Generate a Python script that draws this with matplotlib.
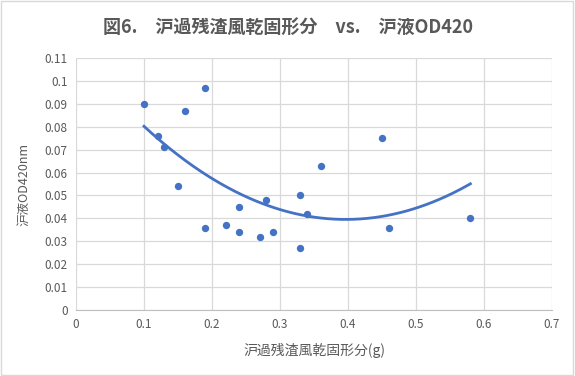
import matplotlib.pyplot as plt
import numpy as np
from matplotlib.patches import Rectangle

plt.rcParams["font.family"] = ["Noto Sans CJK JP", "DejaVu Sans"]

TITLE = "図6.　沪過残渣風乾固形分　vs.　沪液OD420"
X_LABEL = "沪過残渣風乾固形分(g)"
Y_LABEL = "沪液OD420nm"

solids = [0.10, 0.12, 0.13, 0.16, 0.19, 0.15, 0.19, 0.22, 0.24, 0.24,
          0.27, 0.28, 0.29, 0.33, 0.33, 0.34, 0.36, 0.45, 0.46, 0.58]
od420 = [0.090, 0.076, 0.071, 0.087, 0.097, 0.054, 0.036, 0.037, 0.045, 0.034,
         0.032, 0.048, 0.034, 0.050, 0.027, 0.042, 0.063, 0.075, 0.036, 0.040]

x_ticks = [0, 0.1, 0.2, 0.3, 0.4, 0.5, 0.6, 0.7]
y_ticks = [0, 0.01, 0.02, 0.03, 0.04, 0.05, 0.06, 0.07, 0.08, 0.09, 0.1, 0.11]

BLUE = "#4472C4"
GREY = "#595959"

fig = plt.figure(figsize=(5.75, 3.76), dpi=100)
ax = fig.add_axes([76 / 575, 1 - 310 / 376, 476 / 575, 252 / 376])

# polynomial (order 2) trendline like Excel
coef = np.polyfit(solids, od420, 2)
xs = np.linspace(min(solids), max(solids), 200)
ax.plot(xs, np.polyval(coef, xs), color=BLUE, lw=2, zorder=3)
ax.scatter(solids, od420, s=28, color=BLUE, zorder=4, linewidths=0)

ax.set_xlim(0, 0.7)
ax.set_ylim(0, 0.11)
ax.set_xticks(x_ticks)
ax.set_xticklabels([f"{v:g}" for v in x_ticks])
ax.set_yticks(y_ticks)
ax.set_yticklabels([f"{v:g}" for v in y_ticks])
ax.grid(True, color="#D9D9D9", lw=0.9)
ax.set_axisbelow(True)
for side in ("top", "right", "left"):
    ax.spines[side].set_visible(False)
ax.spines["bottom"].set_color("#BFBFBF")
ax.tick_params(length=0, colors=GREY, labelsize=8.5, pad=6)

ax.set_xlabel(X_LABEL, color=GREY, fontsize=10, labelpad=8)
ax.set_ylabel(Y_LABEL, color=GREY, fontsize=9, labelpad=10)
fig.text(288 / 575, 1 - 27 / 376, TITLE, ha="center", va="center",
         fontsize=13, fontweight="bold", color=GREY)

fig.patches.append(Rectangle((0.002, 0.003), 0.995, 0.994, transform=fig.transFigure,
                             fill=False, edgecolor="#D9D9D9", lw=1))

fig.savefig("out.png", dpi=100)
